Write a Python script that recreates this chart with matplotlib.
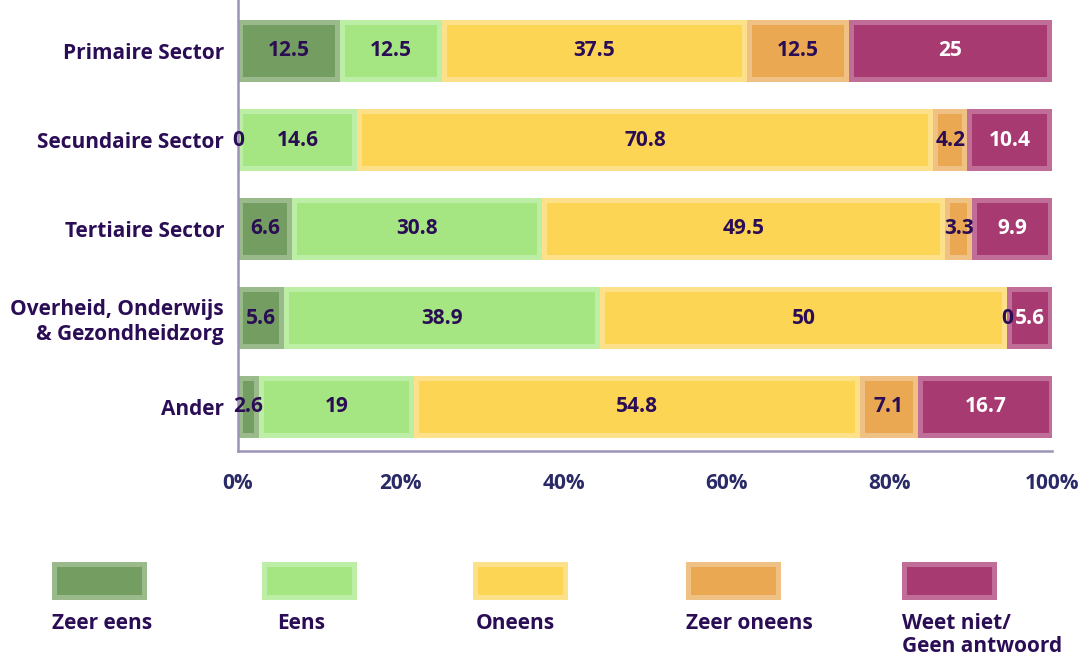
import numpy as np
import matplotlib.pyplot as plt
from matplotlib.patches import Rectangle

plt.rcParams['font.family'] = ['Open Sans', 'DejaVu Sans']

sectors = ['Primaire Sector', 'Secundaire Sector', 'Tertiaire Sector',
           'Overheid, Onderwijs\n& Gezondheidzorg', 'Ander']
categories = ['Zeer eens', 'Eens', 'Oneens', 'Zeer oneens', 'Weet niet/\nGeen antwoord']
zeer_eens = [12.5, 0, 6.6, 5.6, 2.6]
eens = [12.5, 14.6, 30.8, 38.9, 19]
oneens = [37.5, 70.8, 49.5, 50, 54.8]
zeer_oneens = [12.5, 4.2, 3.3, 0, 7.1]
weet_niet = [25, 10.4, 9.9, 5.6, 16.7]
series = [zeer_eens, eens, oneens, zeer_oneens, weet_niet]

inner = ['#749d61', '#a5e682', '#fdd555', '#e9a851', '#a83a72']
outer = ['#9bba8c', '#bdeea5', '#fde08a', '#efc184', '#c06e97']
txt = ['#2b0d55', '#2b0d55', '#2b0d55', '#2b0d55', 'white']
dark = '#2b0d55'
spine = '#9d94b5'
fs = 15

W, H = 1085, 658
fig = plt.figure(figsize=(W / 100, H / 100), dpi=100)
ax = fig.add_axes([238 / W, 1 - 451 / H, (1052 - 238) / W, 451 / H])

y = np.arange(len(sectors))
bh = 0.7
dx = 5 / 814 * 100
dy = 5 / 89

left = np.zeros(len(sectors))
for i, vals in enumerate(series):
    vals = np.array(vals, dtype=float)
    ax.barh(y, vals, left=left, height=bh, color=outer[i], linewidth=0)
    iw = np.clip(vals - 2 * dx, 0, None)
    ax.barh(y, iw, left=left + dx, height=bh - 2 * dy, color=inner[i], linewidth=0)
    for j, v in enumerate(vals):
        lab = f'{v:g}'
        ax.text(left[j] + v / 2, y[j], lab, ha='center', va='center',
                color=txt[i], fontsize=fs, fontweight='bold')
    left += vals

ax.set_xlim(0, 100)
ax.set_ylim(4 + 44 / 89, -51 / 89)
ax.set_yticks(y)
ax.set_yticklabels(sectors, fontsize=fs, fontweight='bold', color=dark)
ax.set_xticks(np.arange(0, 101, 20))
ax.set_xticklabels([f'{t}%' for t in range(0, 101, 20)], fontsize=fs,
                   fontweight='bold', color='#2a2a66')
ax.tick_params(length=0)
ax.tick_params(axis='x', pad=16)
ax.tick_params(axis='y', pad=10)
for s in ['top', 'right']:
    ax.spines[s].set_visible(False)
for s in ['left', 'bottom']:
    ax.spines[s].set_color(spine)
    ax.spines[s].set_linewidth(1.8)

# legend
px = [52, 262, 473, 686, 902]
lx = [52, 277, 476, 686, 902]
for i, cat in enumerate(categories):
    fig.add_artist(Rectangle((px[i] / W, 1 - 600 / H), 95 / W, 38 / H,
                             transform=fig.transFigure, color=outer[i], lw=0))
    fig.add_artist(Rectangle(((px[i] + 5) / W, 1 - 595 / H), 85 / W, 28 / H,
                             transform=fig.transFigure, color=inner[i], lw=0))
    fig.text(lx[i] / W, 1 - 613 / H, cat, ha='left', va='top', fontsize=fs,
             fontweight='bold', color=dark, linespacing=1.12)

fig.savefig('out.png', dpi=100)
